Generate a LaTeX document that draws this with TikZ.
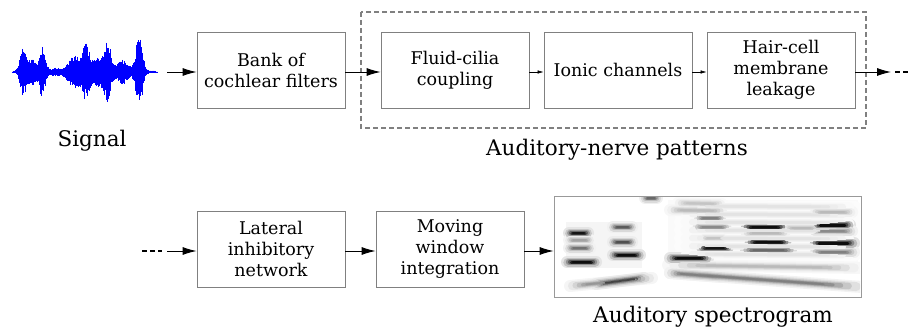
\documentclass[tikz,border=0pt]{standalone}
\usepackage{fontspec}
\setmainfont{DejaVu Serif}
\usetikzlibrary{arrows.meta}
\newcommand\specdata{%
680/206/855/207/0.25, 680/214/855/215/0.25, 680/222/855/223/0.25, 680/230/855/231/0.25,
680/238/855/239/0.25, 680/246/855/247/0.25, 680/254/855/255/0.25,
668/265/860/268/0.6,
569/233/588/233/2.0, 613/227/632/227/1.4, 569/240/590/240/0.8, 613/242/632/242/1.5,
569/248/590/248/1.2, 613/255/640/255/2.2, 567/262/596/262/2.2,
570/286/652/278/0.9, 596/284/644/278/1.6, 645/198/657/198/1.3,
678/203/722/204/0.5, 670/210/724/211/0.6, 698/218/722/218/1.1, 696/227/728/227/1.0,
703/238/724/238/0.5, 700/248/730/248/2.0, 670/258/708/258/2.2,
670/273/862/287/1.1, 670/273/722/277/1.1,
744/227/785/227/2.2, 744/233/787/233/0.6, 748/242/788/242/2.2, 743/250/794/250/1.3,
786/228/817/228/0.6,
813/212/852/212/0.6, 815/225/850/225/2.4, 813/231/852/231/1.0, 813/243/854/243/2.4,
813/252/854/252/1.1}
\begin{document}
\begin{tikzpicture}[x=1pt,y=-1pt,
  blk/.style={draw=black!50, line width=0.8pt, minimum width=148pt, minimum height=76pt,
    inner sep=0pt, align=center, font=\fontsize{17.5}{21}\selectfont},
  lbl/.style={inner sep=0pt, font=\fontsize{21.5}{26}\selectfont},
  bigarrow/.style={line width=0.9pt, -{Latex[length=14pt,width=8pt]}},
  smallarrow/.style={line width=0.6pt, -{Latex[length=6pt,width=3.5pt]}},
  contdash/.style={line width=2.2pt, dash pattern=on 5pt off 3pt},
  wave/.style={draw={rgb,255:red,0;green,0;blue,255}, line width=0.8pt},
  group/.style={draw=black!50, line width=1.8pt, dash pattern=on 5pt off 3pt}]
\useasboundingbox (0,0) rectangle (909,331);

% waveform
\pgfmathsetseed{7}
\foreach \i in {0,...,290}{%
  \pgfmathsetmacro\xx{12+\i*0.5}%
  \pgfmathsetmacro\env{1.5
    +22*exp(0-min(((\xx-23)/4)^2,9))
    +12*exp(0-min(((\xx-32)/5)^2,9))
    +25*exp(0-min(((\xx-42)/4)^2,9))
    +3*exp(0-min(((\xx-55)/6)^2,9))
    +15*exp(0-min(((\xx-74)/8)^2,9))
    +26*exp(0-min(((\xx-86)/5)^2,9))
    +13*exp(0-min(((\xx-97)/5)^2,9))
    +29*exp(0-min(((\xx-107)/5)^2,9))
    +11*exp(0-min(((\xx-122)/8)^2,9))
    +35*exp(0-min(((\xx-139)/4.5)^2,9))
    -1.2*exp(0-min(((\xx-12)/2)^2,9))
    -1.2*exp(0-min(((\xx-157)/2)^2,9))}%
  \pgfmathsetmacro\aa{\env*(0.55+0.45*rnd)}%
  \pgfmathsetmacro\bb{\env*(0.55+0.45*rnd)}%
  \draw[wave] (\xx,72-\aa) -- (\xx,72+\bb);
}
\coordinate (sigout) at (167,72);
\node[lbl] (signal) at (92,141) {Signal};

% top row
\node[blk] (bank)  at (271,70) {Bank of\\cochlear filters};
\node[blk] (fluid) at (455,70) {Fluid-cilia\\coupling};
\node[blk] (ionic) at (618,70) {Ionic channels};
\node[blk] (hair)  at (781,70) {Hair-cell\\membrane\\leakage};
\draw[group] (361,12) rectangle (866,128);
\node[lbl] (anp) at (617,150) {Auditory-nerve patterns};

\draw[bigarrow] (sigout) -- (sigout -| bank.west);
\draw[bigarrow] (bank.east |- 0,72) -- (fluid.west |- 0,72);
\draw[smallarrow] (fluid.east |- 0,72) -- (ionic.west |- 0,72);
\draw[smallarrow] (ionic.east |- 0,72) -- (hair.west |- 0,72);
\coordinate (topout) at (891,72);
\coordinate (topdash) at (895,72);
\coordinate (topend) at (911,72);
\draw[bigarrow] (hair.east |- topout) -- (topout);
\draw[contdash] (topdash) -- (topend);

% bottom row
\node[blk] (lat) at (271,249) {Lateral\\inhibitory\\network};
\node[blk] (mov) at (450,249) {Moving\\window\\integration};
\node[lbl] (aspec) at (713,317) {Auditory spectrogram};

% spectrogram content (layered soft streaks)
\begin{scope}
\clip (555,197) rectangle (860,296);
\fill[black!4] (566,222) rectangle (642,268);
\fill[black!2] (668,200) rectangle (858,262);
\foreach \w/\p/\s in {12/5/0, 9/11/0.03, 6.5/20/0.07, 4.5/30/0.11, 3/40/0.15, 1.8/46/0.2}{%
  \foreach \xa/\ya/\xb/\yb/\k in \specdata {%
    \pgfmathtruncatemacro\pp{min(\p*\k,95)}%
    \pgfmathsetmacro\ss{\s*abs(\xb-\xa)}%
    \draw[draw=black!\pp, line width=\w pt, line cap=round, shorten <=\ss pt, shorten >=\ss pt] (\xa,\ya) -- (\xb,\yb);
  }%
}
\end{scope}
\node[draw=black!40, line width=0.8pt, minimum width=307pt, minimum height=101pt, inner sep=0pt] (spec) at (707.5,246.5) {};

\coordinate (botdash1) at (142,251);
\coordinate (botdash2) at (162,251);
\coordinate (botin) at (167,251);
\draw[contdash] (botdash1) -- (botdash2);
\draw[bigarrow] (botin) -- (botin -| lat.west);
\draw[bigarrow] (lat.east |- botin) -- (mov.west |- botin);
\draw[bigarrow] (mov.east |- botin) -- (spec.west |- botin);
\end{tikzpicture}
\end{document}
